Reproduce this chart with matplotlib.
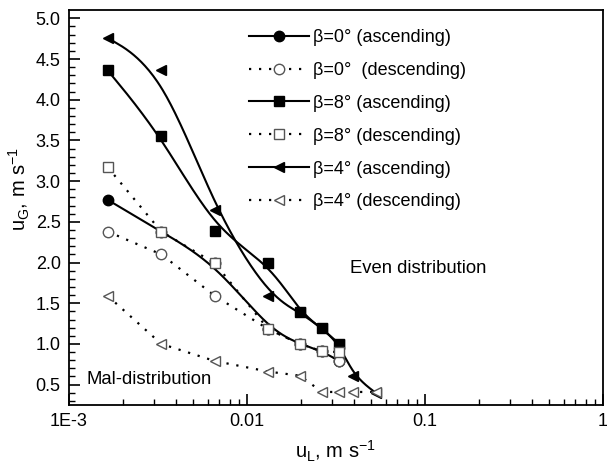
import numpy as np
import matplotlib
matplotlib.use("Agg")
import matplotlib.pyplot as plt

plt.rcParams['font.family'] = ['Liberation Sans', 'DejaVu Sans']

# u_L values (m/s)
uL = [0.00165, 0.0033, 0.0066, 0.0132, 0.0198, 0.0264, 0.033, 0.0396, 0.0528]

# u_G values (m/s)
b0_asc = [2.77, 2.38, 1.99, 1.18, 1.00, 0.91, 0.79]
b0_desc = [2.38, 2.10, 1.59, 1.18, 1.00, 0.91, 0.79]
b8_asc = [4.36, 3.56, 2.39, 2.00, 1.39, 1.19, 1.00]
b8_desc = [3.17, 2.38, 1.99, 1.18, 1.00, 0.91, 0.90]
b4_asc = [4.76, 4.37, 2.64, 1.59, 1.39, 1.19, 1.00, 0.61, 0.40]
b4_desc = [1.59, 1.00, 0.79, 0.66, 0.61, 0.41, 0.41, 0.41, 0.41]

labels = ["β=0° (ascending)", "β=0°  (descending)", "β=8° (ascending)",
          "β=8° (descending)", "β=4° (ascending)", "β=4° (descending)"]

fig = plt.figure(figsize=(6.07, 4.63), dpi=100)
ax = fig.add_axes([0.1137, 0.1253, 0.8797, 0.8527])

dot = (0, (1, 3.5))
ec_open = '#555555'


def bspline(xs, ys, n=40):
    """Clamped uniform cubic B-spline through the data (in log-x space)."""
    P = np.column_stack([np.log10(xs), ys])
    P = np.vstack([P[0], P[0], P, P[-1], P[-1]])
    t = np.linspace(0, 1, n)
    M = np.array([(1 - t) ** 3, 3 * t ** 3 - 6 * t ** 2 + 4,
                  -3 * t ** 3 + 3 * t ** 2 + 3 * t + 1, t ** 3]).T / 6
    pts = []
    for i in range(len(P) - 3):
        pts.append(M @ P[i:i + 4])
    pts = np.vstack(pts)
    return 10 ** pts[:, 0], pts[:, 1]


series = [
    (b0_asc, 'o', True, labels[0]),
    (b0_desc, 'o', False, labels[1]),
    (b8_asc, 's', True, labels[2]),
    (b8_desc, 's', False, labels[3]),
    (b4_asc, '<', True, labels[4]),
    (b4_desc, '<', False, labels[5]),
]

ms = 7.5
handles = []
for ys, mk, asc, lab in series:
    xs = np.array(uL[:len(ys)])
    ys = np.array(ys)
    if asc:
        sx, sy = bspline(xs, ys)
        ax.plot(sx, sy, color='black', lw=1.5, zorder=2)
        ax.plot(xs, ys, linestyle='none', marker=mk, ms=ms, mfc='black',
                mec='black', zorder=3)
        h, = ax.plot([], [], color='black', lw=1.5, marker=mk, ms=ms,
                     mfc='black', mec='black', label=lab)
    else:
        ax.plot(xs, ys, color='black', lw=1.6, linestyle=dot, zorder=2)
        ax.plot(xs, ys, linestyle='none', marker=mk, ms=ms, mfc='white',
                mec=ec_open, mew=1.0, zorder=4)
        h, = ax.plot([], [], color='black', lw=1.6, linestyle=dot, marker=mk,
                     ms=ms, mfc='white', mec=ec_open, mew=1.0, label=lab)
    handles.append(h)

ax.set_xscale('log')
ax.set_xlim(1e-3, 1)
ax.set_ylim(0.25, 5.1)
ax.set_xticks([1e-3, 1e-2, 1e-1, 1])
ax.set_xticklabels(['1E-3', '0.01', '0.1', '1'])
ax.set_yticks(np.arange(0.5, 5.01, 0.5))
ax.set_yticklabels([f"{v:.1f}" for v in np.arange(0.5, 5.01, 0.5)])
ax.set_yticks(np.arange(0.3, 5.1, 0.1), minor=True)
ax.tick_params(which='major', direction='in', length=8, width=1.2,
               labelsize=13, pad=6)
ax.tick_params(which='minor', direction='in', length=4.5, width=1.0)
for s in ax.spines.values():
    s.set_linewidth(1.3)

ax.set_xlabel('u$_\\mathregular{L}$, m s$^\\mathregular{-1}$', fontsize=14.5,
              labelpad=6)
ax.set_ylabel('u$_\\mathregular{G}$, m s$^\\mathregular{-1}$', fontsize=14.5)
ax.yaxis.set_label_coords(-0.07, 0.547)

ax.text(0.0379, 1.93, 'Even distribution', fontsize=13.3, va='center')
ax.text(0.00125, 0.56, 'Mal-distribution', fontsize=13.3, va='center')

ax.legend(handles=handles, loc='upper left', bbox_to_anchor=(0.327, 0.966),
          frameon=False, fontsize=13, handlelength=3.3, handletextpad=0.25,
          labelspacing=0.88, borderaxespad=0, borderpad=0.3)

fig.savefig('out.png', dpi=100)
